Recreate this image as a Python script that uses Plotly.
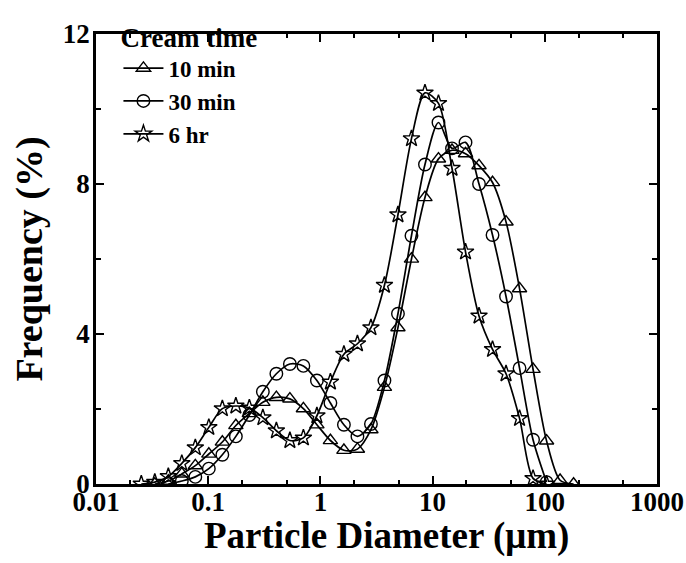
import plotly.graph_objects as go

# Bin diameters (um), shared by all series
diam = [0.02533, 0.03342, 0.04410, 0.05818, 0.07677, 0.1013, 0.1337, 0.1764,
        0.2327, 0.3070, 0.4051, 0.5346, 0.7054, 0.9307, 1.228, 1.620, 2.138,
        2.821, 3.722, 4.911, 6.481, 8.551, 11.28, 14.89, 19.65, 25.92, 34.20,
        45.13, 59.55, 78.57, 103.7, 136.8, 180.5]

# Frequency (%) per bin
f_10min = [None, 0.0, 0.08, 0.27, 0.49, 0.80, 1.12, 1.56, 1.88, 2.18, 2.31, 2.27,
           2.01, 1.58, 1.16, 0.90, 0.93, 1.45, 2.58, 4.17, 6.00, 7.64, 8.67,
           8.90, 8.81, 8.49, 8.04, 6.99, 5.21, 3.06, 1.15, 0.10, 0.0]
f_30min = [None, None, 0.0, 0.08, 0.19, 0.41, 0.78, 1.27, 1.84, 2.46, 2.94, 3.20,
           3.15, 2.76, 2.16, 1.58, 1.27, 1.60, 2.76, 4.54, 6.62, 8.52, 9.64,
           8.95, 9.11, 8.00, 6.64, 5.00, 3.09, 1.18, 0.05, None, None]
f_6hr = [0.0, 0.05, 0.20, 0.55, 0.97, 1.51, 2.01, 2.08, 2.03, 1.77, 1.42, 1.16,
         1.23, 1.82, 2.72, 3.46, 3.74, 4.17, 5.30, 7.18, 9.21, 10.43, 10.15,
         8.42, 6.19, 4.48, 3.59, 2.94, 1.75, 0.15, 0.0, None, None]

x_ticks = [0.01, 0.1, 1, 10, 100, 1000]
x_ticklabels = ["0.01", "0.1", "1", "10", "100", "1000"]
y_ticks = [0, 4, 8, 12]
y_ticklabels = ["0", "4", "8", "12"]

series = [("10 min", f_10min, "triangle-up-open"),
          ("30 min", f_30min, "circle-open"),
          ("6 hr", f_6hr, "star-open")]

fig = go.Figure()
for name, vals, sym in series:
    xs = [d for d, v in zip(diam, vals) if v is not None]
    ys = [v for v in vals if v is not None]
    fig.add_trace(go.Scatter(
        x=xs, y=ys, name="<b>%s</b>" % name, mode="lines+markers",
        line=dict(color="black", width=1.7, shape="spline", smoothing=0.8),
        marker=dict(symbol=sym, size=12.5, color="black",
                    line=dict(color="black", width=1.4)),
    ))

font_family = "Liberation Serif, Times New Roman, serif"
fig.update_layout(
    width=686, height=563,
    margin=dict(l=96, r=29, t=22, b=79),
    paper_bgcolor="white", plot_bgcolor="white",
    font=dict(family=font_family, color="black"),
    showlegend=True,
    legend=dict(
        x=0.04, y=1.05, xanchor="left", yanchor="top",
        bgcolor="rgba(0,0,0,0)",
        title=dict(text="<b>Cream time</b>", font=dict(size=27, family=font_family)),
        font=dict(size=23, family=font_family, color="black"),
        itemwidth=40, tracegroupgap=0,
    ),
    xaxis=dict(
        type="log", range=[-2, 3], automargin=False,
        tickvals=x_ticks,
        ticktext=["<b>%s</b>" % t for t in x_ticklabels],
        ticks="inside", ticklen=8, tickwidth=2, tickcolor="black",
        minor=dict(ticks="inside", ticklen=4, tickwidth=1.5, tickcolor="black", showgrid=False),
        showline=True, linewidth=2.5, linecolor="black", mirror="allticks",
        showgrid=False, zeroline=False,
        ticklabelstandoff=-8,
        tickfont=dict(size=27, family=font_family),
    ),
    yaxis=dict(
        range=[0, 12], automargin=False,
        tickvals=y_ticks,
        ticktext=["<b>%s</b>" % t for t in y_ticklabels],
        ticks="inside", ticklen=8, tickwidth=2, tickcolor="black",
        minor=dict(dtick=2, ticks="inside", ticklen=5, tickwidth=1.5, tickcolor="black", showgrid=False),
        showline=True, linewidth=2.5, linecolor="black", mirror="allticks",
        showgrid=False, zeroline=False,
        ticklabelstandoff=-2,
        tickfont=dict(size=27, family=font_family),
        title=dict(text="<b>Frequency (%)</b>", font=dict(size=38, family=font_family), standoff=9),
    ),
    annotations=[dict(
        text="<b>Particle Diameter (μm)</b>", xref="paper", yref="paper",
        x=0.5187, y=-0.1147, xanchor="center", yanchor="middle",
        showarrow=False, font=dict(size=37, family=font_family, color="black"),
    )],
)

fig.write_html("out.html")
